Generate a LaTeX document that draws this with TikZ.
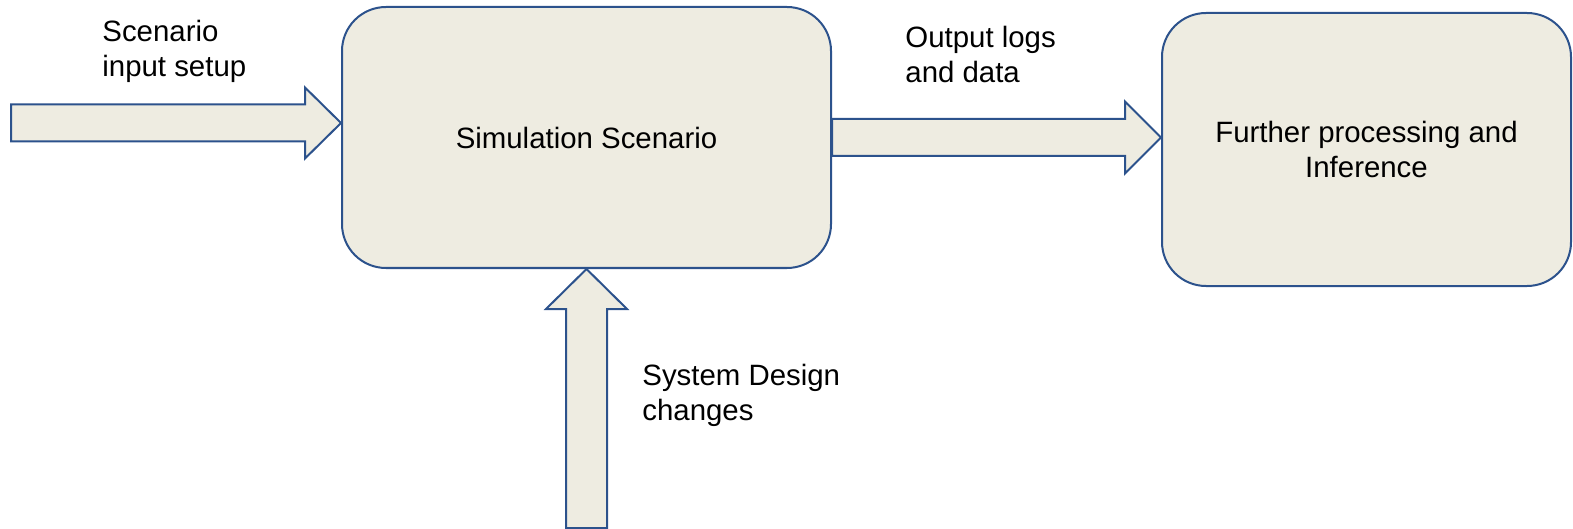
\documentclass[tikz,border=0pt]{standalone}
\usepackage{fontspec}
\setmainfont{Liberation Sans}
\usetikzlibrary{calc}
\definecolor{boxfill}{HTML}{EEECE1}
\definecolor{boxline}{RGB}{44,82,140}

\begin{document}
\begin{tikzpicture}[x=0.5pt, y=-0.5pt,
every node/.style = {align=center, font=\fontsize{14.7}{17.5}\selectfont},
stage/.style = {draw=boxline, fill=boxfill, line width=1pt, rounded corners=22pt, inner sep=0pt},
bigarrow/.style = {draw=boxline, fill=boxfill, line width=1pt, line join=miter},
note/.style = {align=left, anchor=base west, inner sep=0pt}]
\useasboundingbox (0,0) rectangle (1573,529);
%
\node [stage, minimum width=244.5pt, minimum height=130.5pt] (sim) at (586.5,137.5) {Simulation Scenario};
\node [stage, minimum width=204.5pt, minimum height=136.5pt] (post) at (1366.5,149.5) {Further processing and\\Inference};
%
\coordinate (inTip) at ($(sim.west)+(0,-14.5)$);
\coordinate (inTail) at ($(inTip)+(-330,0)$);
\coordinate (outTip) at (sim.east -| post.west);
\coordinate (upTip) at (sim.south);
\coordinate (upTail) at ($(sim.south)+(0,259)$);
%
\draw [bigarrow] ($(inTail)+(0,-18.5)$) -- ($(inTip)+(-36,-18.5)$) -- ($(inTip)+(-36,-35.5)$) -- (inTip)
	-- ($(inTip)+(-36,35.5)$) -- ($(inTip)+(-36,18.5)$) -- ($(inTail)+(0,18.5)$) -- cycle;
\draw [bigarrow] ($(sim.east)+(0,-18.5)$) -- ($(outTip)+(-36,-18.5)$) -- ($(outTip)+(-36,-36)$) -- (outTip)
	-- ($(outTip)+(-36,36)$) -- ($(outTip)+(-36,18.5)$) -- ($(sim.east)+(0,18.5)$) -- cycle;
\draw [bigarrow] ($(upTail)+(-20.5,0)$) -- ($(upTip)+(-20.5,40)$) -- ($(upTip)+(-40.5,40)$) -- (upTip)
	-- ($(upTip)+(40.5,40)$) -- ($(upTip)+(20.5,40)$) -- ($(upTail)+(20.5,0)$) -- cycle;
%
\node [note] (inLabel) at (102,77) {Scenario\\input setup};
\node [note] (outLabel) at (905,83) {Output logs\\and data};
\node [note] (designLabel) at (642,420) {System Design\\changes};
\end{tikzpicture}
\end{document}
